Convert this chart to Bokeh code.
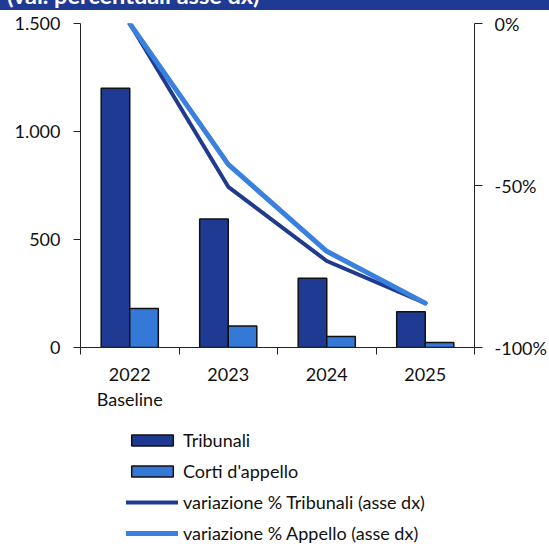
from bokeh.plotting import figure
from bokeh.models import (Range1d, LinearAxis, FixedTicker, Legend, LegendItem,
                          ColumnDataSource, Div)
from bokeh.layouts import column
from bokeh.embed import file_html
from bokeh.resources import INLINE

# ---- data ----
years = ["2022\nBaseline", "2023", "2024", "2025"]
tribunali = [1200, 595, 321, 165]
corti_appello = [180, 100, 51, 23]
var_tribunali = [0.0, -50.4, -73.3, -86.3]
var_appello = [0.0, -43.5, -70.3, -86.3]
left_ticks = [0, 500, 1000, 1500]
left_tick_labels = ["0", "500", "1.000", "1.500"]
right_ticks = [-100, -50, 0]
right_tick_labels = ["-100%", "-50%", "0%"]
series_names = ["Tribunali", "Corti d'appello",
                "variazione % Tribunali (asse dx)", "variazione % Appello (asse dx)"]
title_text = "(val. percentuali asse dx)"

FONT = "Lato"
DARK = "#1F3A93"
LIGHT = "#3479D8"
DARK_LINE = "#203A8F"
LIGHT_LINE = "#3A80DE"
AXIS = "#222222"
TXT = "#111111"

n = len(years)
centers = [i + 0.5 for i in range(n)]
bw = 0.29

# ---- title band (cut off at top as in the reference) ----
band = Div(text='<div style="position:relative;top:-10px;font-family:Lato;font-weight:bold;'
                'font-size:23.5px;line-height:10px;color:white;padding-left:7px;'
                'white-space:nowrap;">' + title_text + '</div>',
           width=549, height=10, margin=0, sizing_mode="fixed",
           styles={"background-color": DARK, "overflow": "hidden", "height": "10px"})

src = ColumnDataSource(dict(
    xt=[c - bw / 2 for c in centers], xc=[c + bw / 2 for c in centers], xm=centers,
    trib=tribunali, corti=corti_appello, vt=var_tribunali, va=var_appello))

bar_t = dict(fill_color=DARK, line_color=TXT, line_width=1.5)
bar_c = dict(fill_color=LIGHT, line_color=TXT, line_width=1.5)
ln_t = dict(line_color=DARK_LINE, line_width=4, line_join="round", line_cap="round")
ln_a = dict(line_color=LIGHT_LINE, line_width=5, line_join="round", line_cap="round")

# ---- main chart ----
p = figure(width=549, height=410, output_backend="svg", toolbar_location=None,
           x_range=Range1d(0, n), y_range=Range1d(0, 1500),
           min_border_left=80, min_border_right=75, min_border_top=13,
           min_border_bottom=73)
p.outline_line_color = None
p.xgrid.visible = False
p.ygrid.visible = False
p.extra_y_ranges = {"pct": Range1d(-100, 0)}

p.vbar(x="xt", top="trib", bottom=0, width=bw, source=src, **bar_t)
p.vbar(x="xc", top="corti", bottom=0, width=bw, source=src, **bar_c)
p.line(x="xm", y="vt", source=src, y_range_name="pct", **ln_t)
p.line(x="xm", y="va", source=src, y_range_name="pct", **ln_a)

# left axis
ya = p.yaxis[0]
ya.ticker = FixedTicker(ticks=left_ticks)
ya.major_label_overrides = {t: l for t, l in zip(left_ticks, left_tick_labels)}
ya.major_tick_out = 7
ya.major_tick_in = 0
ya.minor_tick_line_color = None
ya.major_label_standoff = 13
ya.axis_line_color = AXIS
ya.major_tick_line_color = AXIS
ya.major_label_text_font = FONT
ya.major_label_text_font_size = "18px"
ya.major_label_text_color = TXT

# bottom axis
xa = p.xaxis[0]
xa.ticker = FixedTicker(ticks=centers, minor_ticks=list(range(n + 1)))
xa.major_label_overrides = {c: y for c, y in zip(centers, years)}
xa.major_tick_line_color = None
xa.major_tick_out = 0
xa.major_tick_in = 0
xa.minor_tick_out = 7
xa.minor_tick_in = 0
xa.minor_tick_line_color = AXIS
xa.axis_line_color = AXIS
xa.major_label_standoff = 8
xa.major_label_text_font = FONT
xa.major_label_text_font_size = "18px"
xa.major_label_text_color = TXT
xa.major_label_text_line_height = 1.15

# right axis
ra = LinearAxis(y_range_name="pct", ticker=FixedTicker(ticks=right_ticks))
ra.major_label_overrides = {t: l for t, l in zip(right_ticks, right_tick_labels)}
ra.major_tick_out = 8
ra.major_tick_in = 0
ra.minor_tick_line_color = None
ra.major_label_standoff = 12
ra.axis_line_color = AXIS
ra.major_tick_line_color = AXIS
ra.major_label_text_font = FONT
ra.major_label_text_font_size = "18px"
ra.major_label_text_color = TXT
p.add_layout(ra, "right")

# ---- legend panel (same series as hidden renderers, only their legend shows) ----
q = figure(width=549, height=124, output_backend="svg", toolbar_location=None,
           x_range=Range1d(5000, 5001), y_range=Range1d(5000, 5001),
           min_border_left=0, min_border_right=0, min_border_top=0,
           min_border_bottom=0)
q.axis.visible = False
q.grid.visible = False
q.outline_line_color = None
q.extra_y_ranges = {"pct": Range1d(5000, 5001)}
g1 = q.vbar(x="xt", top="trib", bottom=0, width=bw, source=src, **bar_t)
g2 = q.vbar(x="xc", top="corti", bottom=0, width=bw, source=src, **bar_c)
g3 = q.line(x="xm", y="vt", source=src, y_range_name="pct", **ln_t)
g4 = q.line(x="xm", y="va", source=src, y_range_name="pct", **ln_a)
for g in (g1, g2, g3, g4):
    g.visible = False

legend = Legend(items=[LegendItem(label=s, renderers=[g])
                       for s, g in zip(series_names, [g1, g2, g3, g4])],
                location=(46, 0))
legend.padding = 0
legend.margin = 0
legend.border_line_color = None
legend.background_fill_alpha = 0
legend.inactive_fill_alpha = 0
legend.glyph_width = 52
legend.glyph_height = 14
legend.label_height = 22
legend.spacing = 9
legend.label_standoff = 5
legend.label_text_font = FONT
legend.label_text_font_size = "18px"
legend.label_text_color = TXT
q.add_layout(legend, "center")

layout = column(band, p, q, spacing=0)
open("out.html", "w").write(file_html(layout, INLINE))
